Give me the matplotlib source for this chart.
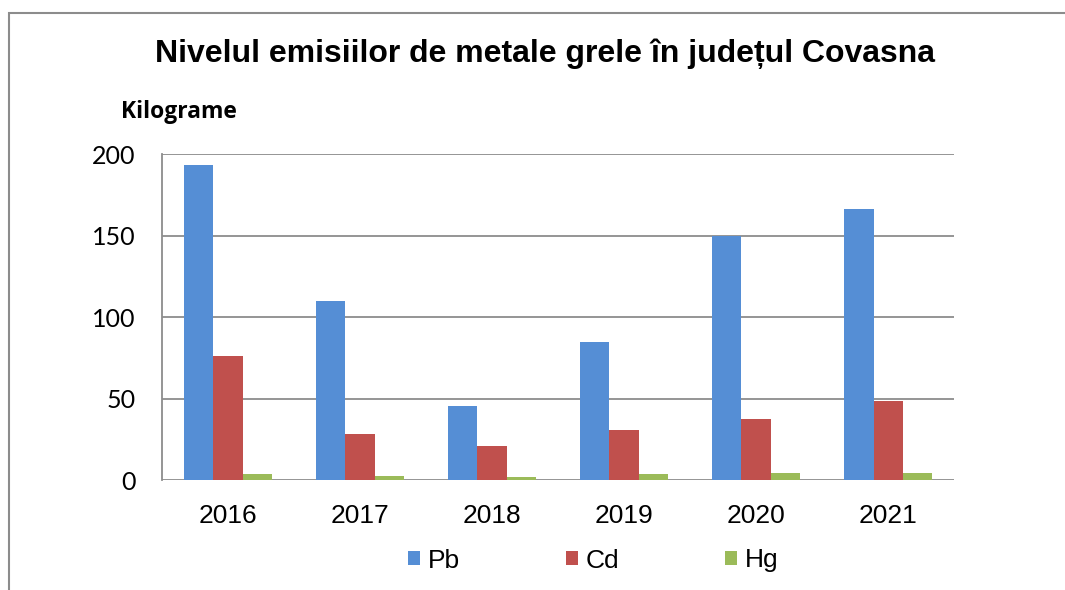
import matplotlib
matplotlib.use("Agg")
from matplotlib import pyplot as plt
from matplotlib.patches import Rectangle
import numpy as np

years = ["2016", "2017", "2018", "2019", "2020", "2021"]
pb = [193, 110, 45.5, 84.7, 149.7, 166]
cd = [76, 28, 21, 30.7, 37.4, 48.5]
hg = [3.7, 2.5, 1.7, 4.0, 4.6, 4.6]
series = ["Pb", "Cd", "Hg"]
colors = ["#558ED5", "#C0504D", "#9BBB59"]

fig = plt.figure(figsize=(10.65, 5.9), dpi=100)
ax = fig.add_axes([0.1521, 0.1864, 0.7437, 0.5525])

x = np.arange(len(years))
w = 0.22
for i, (vals, name, col) in enumerate(zip([pb, cd, hg], series, colors)):
    ax.bar(x + (i - 1) * w, vals, width=w, color=col, label=name, linewidth=0)

ax.set_xlim(-0.5, len(years) - 0.5)
ax.set_ylim(0, 200)
ax.set_yticks([0, 50, 100, 150, 200])
ax.set_xticks(x)
ax.set_xticklabels(years, fontsize=19, family="Liberation Sans")
for lab in ax.get_yticklabels():
    lab.set_fontsize(18)
    lab.set_family("Lato")
ax.tick_params(axis="x", length=0, pad=17)
ax.tick_params(axis="y", length=0, pad=19)
ax.yaxis.grid(True, color="#8C8C8C", linewidth=1.3)
ax.set_axisbelow(True)
for s in ["top", "right", "bottom"]:
    ax.spines[s].set_visible(False)
ax.spines["left"].set_color("#8C8C8C")
ax.spines["left"].set_linewidth(1.3)

fig.text(0.512, 0.909, "Nivelul emisiilor de metale grele în județul Covasna",
         ha="center", va="center", fontsize=23, fontweight="bold",
         family="Liberation Sans")
fig.text(0.114, 0.81, "Kilograme", ha="left", va="center", fontsize=16.5,
         fontweight="bold", family="Open Sans")

fig.legend(loc="center", bbox_to_anchor=(0.557, 0.05), ncol=3, frameon=False,
           prop={"family": "Liberation Sans", "size": 19},
           handlelength=0.45, handleheight=0.45, handletextpad=0.3,
           columnspacing=4.0)

# outer chart frame
fig.add_artist(Rectangle((0.0085, -0.01), 1.2, 0.988, transform=fig.transFigure,
                         fill=False, edgecolor="#8C8C8C", linewidth=1.5))

fig.savefig("out.png", dpi=100)
